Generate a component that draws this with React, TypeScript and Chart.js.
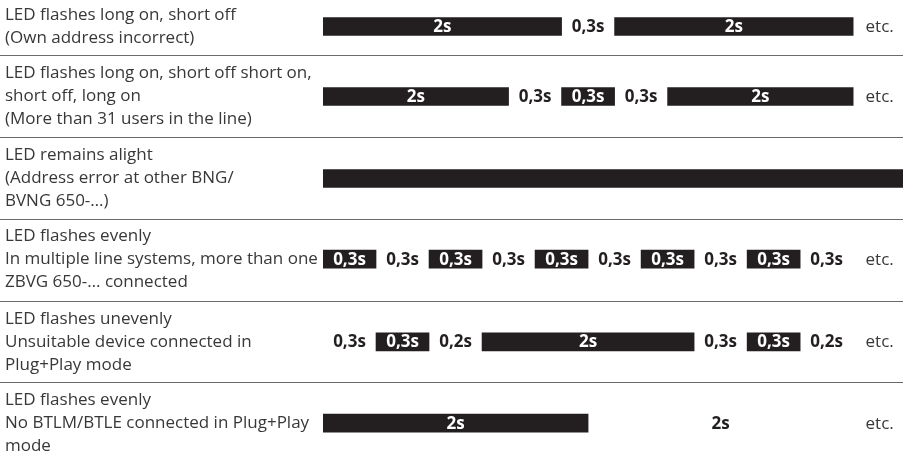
import React, { useEffect, useRef } from 'react';
import { Chart, registerables } from 'chart.js';

Chart.register(...registerables);

// ---------- data ----------
const ROW_LABELS: string[][] = [
  ['LED flashes long on, short off', '(Own address incorrect)'],
  ['LED flashes long on, short off short on,', 'short off, long on', '(More than 31 users in the line)'],
  ['LED remains alight', '(Address error at other BNG/', 'BVNG 650-…)'],
  ['LED flashes evenly', 'In multiple line systems, more than one', 'ZBVG 650-… connected'],
  ['LED flashes unevenly', 'Unsuitable device connected in', 'Plug+Play mode'],
  ['LED flashes evenly', 'No BTLM/BTLE connected in Plug+Play', 'mode'],
];

// schematic segment lengths (one unit = one short 0,3s slot)
const SEGMENT_UNITS: number[][] = [
  [4.5, 1, 4.5],
  [3.5, 1, 1, 1, 3.5],
  [11],
  [1, 1, 1, 1, 1, 1, 1, 1, 1, 1],
  [1, 1, 1, 4, 1, 1, 1],
  [5, 5],
];

const SEGMENT_STATES: ('on' | 'off')[][] = [
  ['on', 'off', 'on'],
  ['on', 'off', 'on', 'off', 'on'],
  ['on'],
  ['on', 'off', 'on', 'off', 'on', 'off', 'on', 'off', 'on', 'off'],
  ['off', 'on', 'off', 'on', 'off', 'on', 'off'],
  ['on', 'off'],
];

const SEGMENT_TEXTS: string[][] = [
  ['2s', '0,3s', '2s'],
  ['2s', '0,3s', '0,3s', '0,3s', '2s'],
  [''],
  ['0,3s', '0,3s', '0,3s', '0,3s', '0,3s', '0,3s', '0,3s', '0,3s', '0,3s', '0,3s'],
  ['0,3s', '0,3s', '0,2s', '2s', '0,3s', '0,3s', '0,2s'],
  ['2s', '2s'],
];

const ETC_ROWS: boolean[] = [true, true, false, true, true, true];
const ETC_TEXT = 'etc.';

// ---------- layout / style ----------
const W = 903;
const H = 456;
const LABEL_LEFT = 5;
const PLOT_LEFT = 323;
const ROW_CENTERS = [26.5, 96.5, 178.5, 259.2, 341.8, 423.2];
const SEPARATORS = [55, 137, 219, 301, 382];
const X_MAX = 10.94;
const ETC_X = 10.5;
const BAR_COLOR = '#231f20';
const TEXT_GREY = '#383838';
const SEP_COLOR = '#6a6a6a';
const FONT = "'Open Sans', sans-serif";

function buildPoints(state: 'on' | 'off') {
  const pts: { x: [number, number]; y: number; label: string }[] = [];
  SEGMENT_UNITS.forEach((units, r) => {
    let start = 0;
    units.forEach((u, i) => {
      if (SEGMENT_STATES[r][i] === state) {
        pts.push({ x: [start, start + u], y: ROW_CENTERS[r], label: SEGMENT_TEXTS[r][i] });
      }
      start += u;
    });
  });
  return pts;
}

const segmentLabels = {
  id: 'segmentLabels',
  afterDatasetsDraw(chart: any) {
    const ctx = chart.ctx;
    ctx.save();
    ctx.textAlign = 'center';
    ctx.textBaseline = 'middle';
    chart.data.datasets.forEach((ds: any, di: number) => {
      const meta = chart.getDatasetMeta(di);
      ctx.fillStyle = di === 0 ? '#ffffff' : BAR_COLOR;
      ctx.font = `bold 17px ${FONT}`;
      meta.data.forEach((el: any, i: number) => {
        const raw = ds.data[i];
        if (!raw || !raw.label) return;
        const p = el.getCenterPoint();
        ctx.fillText(raw.label, p.x, p.y + 0.5);
      });
    });
    ctx.font = `17px ${FONT}`;
    ctx.fillStyle = TEXT_GREY;
    const xs = chart.scales.x;
    const ys = chart.scales.y;
    ETC_ROWS.forEach((show, r) => {
      if (show) ctx.fillText(ETC_TEXT, xs.getPixelForValue(ETC_X), ys.getPixelForValue(ROW_CENTERS[r]) + 0.5);
    });
    ctx.restore();
  },
};

export default function App() {
  const ref = useRef<HTMLCanvasElement | null>(null);

  useEffect(() => {
    if (!ref.current) return;
    const common = {
      grouped: false,
      barThickness: 18,
      maxBarThickness: 18,
      barPercentage: 1,
      categoryPercentage: 1,
      borderWidth: 0,
    };
    const chart = new Chart(ref.current, {
      type: 'bar',
      data: {
        datasets: [
          { label: 'LED on', data: buildPoints('on') as any, backgroundColor: BAR_COLOR, ...common },
          { label: 'LED off', data: buildPoints('off') as any, backgroundColor: 'rgba(0,0,0,0)', ...common },
        ],
      },
      options: {
        indexAxis: 'y',
        animation: false,
        responsive: false,
        events: [],
        layout: { padding: { left: LABEL_LEFT, right: 0, top: 0, bottom: 0 } },
        plugins: { legend: { display: false }, tooltip: { enabled: false }, title: { display: false } },
        scales: {
          x: { type: 'linear', min: 0, max: X_MAX, display: false },
          y: {
            type: 'linear',
            min: 0,
            max: H,
            reverse: true,
            offset: false,
            border: { display: false },
            grid: {
              offset: false,
              drawOnChartArea: true,
              drawTicks: true,
              tickLength: PLOT_LEFT,
              color: (c: any) => (c.tick && SEPARATORS.includes(c.tick.value) ? SEP_COLOR : 'rgba(0,0,0,0)'),
              lineWidth: (c: any) => (c.tick && SEPARATORS.includes(c.tick.value) ? 1 : 0),
            },
            ticks: {
              autoSkip: false,
              crossAlign: 'far',
              padding: 0,
              color: TEXT_GREY,
              font: { family: FONT, size: 17, lineHeight: '23px' },
              callback: (value: any) => {
                const r = ROW_CENTERS.indexOf(Number(value));
                return r >= 0 ? ROW_LABELS[r] : '';
              },
            },
            afterBuildTicks: (s: any) => {
              const vals = [...ROW_CENTERS, ...SEPARATORS].sort((a, b) => a - b);
              s.ticks = vals.map((v) => ({ value: v }));
            },
            afterFit: (s: any) => {
              s.width = PLOT_LEFT - LABEL_LEFT;
              s.paddingTop = 0;
              s.paddingBottom = 0;
            },
          } as any,
        },
      },
      plugins: [segmentLabels],
    });
    return () => chart.destroy();
  }, []);

  return (
    <div style={{ position: 'absolute', left: 0, top: 0, width: W, height: H, background: '#fff' }}>
      <canvas ref={ref} width={W} height={H} style={{ display: 'block', width: W, height: H }} />
    </div>
  );
}
